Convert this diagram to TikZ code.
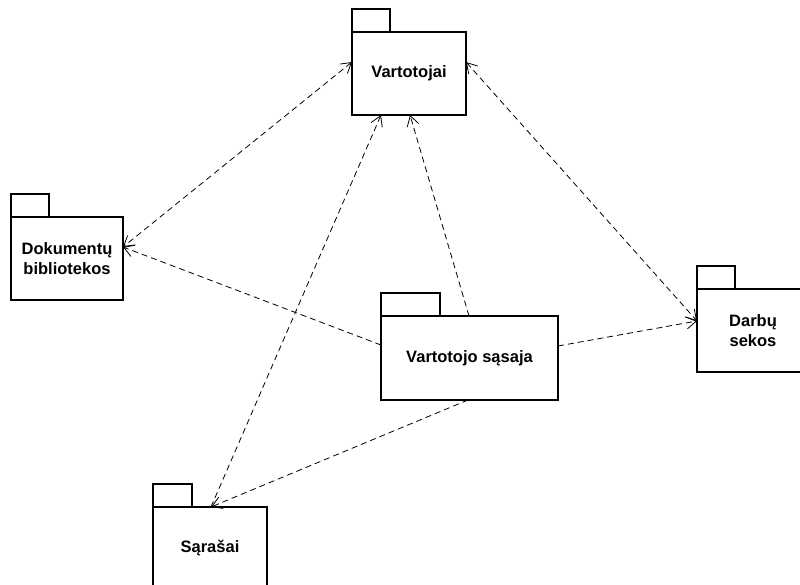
\documentclass[tikz,border=0pt]{standalone}
\usepackage{fontspec}
\setmainfont{Liberation Sans}
\usetikzlibrary{arrows.meta}
\begin{document}
\begin{tikzpicture}[x=1pt,y=-1pt,
  pkgbody/.style={draw, line width=1.3pt, rectangle, inner sep=0pt, outer sep=0pt,
    align=center, font=\fontsize{16.5}{19.5}\selectfont\bfseries},
  pkgtab/.style={draw, line width=1.3pt},
  dep/.style={line width=0.8pt, dash pattern=on 6pt off 4pt,
    -{Straight Barb[length=10pt,width=12pt,line width=0.8pt]}},
  bidep/.style={dep,
    {Straight Barb[length=10pt,width=12pt,line width=0.8pt]}-{Straight Barb[length=10pt,width=12pt,line width=0.8pt]}}]
\clip (0,0) rectangle (800,585);
\fill[white] (0,0) rectangle (800,585);

% package bodies
\node[pkgbody, minimum width=114pt, minimum height=83pt] (vart) at (409,73.5) {Vartotojai};
\node[pkgbody, minimum width=112pt, minimum height=83pt] (dok)  at (67,258.5) {Dokumentų\\bibliotekos};
\node[pkgbody, minimum width=177pt, minimum height=84pt] (sas)  at (469.5,358) {Vartotojo sąsaja};
\node[pkgbody, minimum width=112pt, minimum height=83pt] (darb) at (753,330.5) {Darbų\\sekos};
\node[pkgbody, minimum width=114pt, minimum height=83pt] (sar)  at (210,548.5) {Sąrašai};

% package tabs
\foreach \n/\w in {vart/38, dok/38, sas/59, darb/38, sar/39}
  \draw[pkgtab] (\n.north west) rectangle ++(\w,-23);

% dependencies
\draw[bidep] ([yshift=-30pt]vart.north west) -- ([yshift=-30pt]dok.north east);
\draw[bidep] ([yshift=-30pt]vart.north east) -- ([yshift=-32pt]darb.north west);
\draw[dep] ([xshift=88pt]sas.north west) -- ([xshift=58pt]vart.south west);
\draw[dep] ([xshift=58pt]sar.north west) -- ([xshift=29pt]vart.south west);
\draw[dep] ([yshift=-29pt]sas.north west) -- ([yshift=-30pt]dok.north east);
\draw[dep] ([yshift=-30pt]sas.north east) -- ([yshift=-32pt]darb.north west);
\draw[dep] ([xshift=87pt]sas.south west) -- ([xshift=58pt]sar.north west);
\end{tikzpicture}
\end{document}
